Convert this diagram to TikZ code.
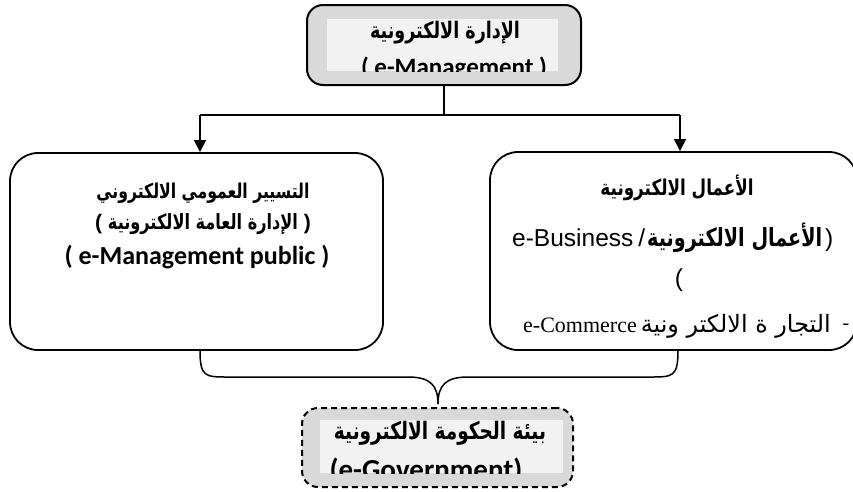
\documentclass[tikz,border=0pt]{standalone}
\usepackage{fontspec}
\usetikzlibrary{arrows.meta}
\TeXXeTstate=1
\newfontfamily\arfont[Script=Arabic]{DejaVu Sans}
\newfontfamily\califont{Carlito}
\newfontfamily\arialfont{Liberation Sans}
\newfontfamily\timesfont{Liberation Serif}
\definecolor{boxgrey}{HTML}{D9D9D9}
\definecolor{innergrey}{HTML}{F2F2F2}
% Arabic phrase fitted to a given width, bold ones set a little taller
\newcommand\arbold[2]{\scalebox{1}[1.3]{\resizebox{#1}{!}{\arfont\bfseries #2}}}
\newcommand\arplain[2]{\resizebox{#1}{!}{\arfont #2}}
\begin{document}
\begin{tikzpicture}[x=1pt,y=-1pt,
  outline/.style={draw=black,line width=2pt,rounded corners=16pt,inner sep=0pt},
  bigbox/.style={draw=black,line width=1.8pt,rounded corners=28pt,inner sep=0pt},
  link/.style={draw=black,line width=1.5pt},
  arrowlink/.style={link,-{Triangle[length=12pt,width=12pt]}},
  txt/.style={inner sep=0pt,anchor=center},
  txtw/.style={inner sep=0pt,anchor=base west}]
\useasboundingbox (0,0) rectangle (853,491);

% top box: e-Management
\node[outline,fill=boxgrey,minimum width=274pt,minimum height=80pt] (top) at (444,45) {};
\fill[innergrey] (327,19) rectangle (558,71);
\begin{scope}
  \clip (327,19) rectangle (558,71);
  \node[txt] (topa) at (445,33) {\arbold{150pt}{\beginR الإدارة الالكترونية\endR}};
  \node[inner sep=0pt,anchor=base] (topb) at (454,75) {\califont\bfseries\fontsize{25}{30}\selectfont ( e-Management )};
\end{scope}

% the two branches
\node[bigbox,minimum width=373pt,minimum height=197pt] (left) at (196.5,251.5) {};
\node[bigbox,minimum width=367pt,minimum height=198pt] (right) at (673.5,251) {};

\node[txt] (la) at (203,193) {\arbold{213pt}{\beginR التسيير العمومي الالكتروني\endR}};
\node[txt] (lb) at (203,224) {{\arialfont\bfseries\fontsize{21}{24}\selectfont (\ }\arbold{190pt}{\beginR الإدارة العامة الالكترونية\endR}{\arialfont\bfseries\fontsize{21}{24}\selectfont\ )}};
\node[txt] (lc) at (197,257) {\califont\bfseries\fontsize{26}{30}\selectfont ( e-Management public )};

\node[txt] (ra) at (677,188) {\arbold{153pt}{\beginR الأعمال الالكترونية\endR}};
\node[txtw] (rb) at (512,246) {\arialfont\fontsize{24.5}{28}\selectfont e-Business\hspace{5pt}/\hspace{2pt}\arbold{175pt}{\beginR الأعمال الالكترونية\endR}\hspace{3pt})};
\node[txt] (rc) at (679,280) {\arialfont\fontsize{24.5}{28}\selectfont (};
\node[txtw] (rd) at (523,332) {\timesfont\fontsize{22}{26}\selectfont e-Commerce\hspace{4pt}\arplain{190pt}{\beginR التجار ة الالكتر ونية\endR}};
\node[txt] (re) at (846,327) {\timesfont\fontsize{20}{24}\selectfont -};

% bottom box: e-Government
\node[outline,dashed,dash pattern=on 6pt off 4pt,fill=boxgrey,minimum width=271pt,minimum height=79pt] (gov) at (437.5,447.5) {};
\fill[innergrey] (320,420) rectangle (563,473);
\begin{scope}
  \clip (320,420) rectangle (563,473);
  \node[txt] (gova) at (440,433) {\arbold{212pt}{\beginR بيئة الحكومة الالكترونية\endR}};
  \node[inner sep=0pt,anchor=base] (govb) at (426,479) {\califont\bfseries\fontsize{29}{33}\selectfont (e-Government)};
\end{scope}

% connectors from the top box to both branches
\coordinate (split) at (top.south |- 0,115);
\coordinate (lt) at (200,115);
\coordinate (rt) at (680,115);
\draw[link] (top.south) -- (split);
\draw[link] (lt) -- (rt);
\draw[arrowlink] (lt) -- (lt |- left.north);
\draw[arrowlink] (rt) -- (rt |- right.north);

% brace joining both branches into the bottom box
\coordinate (lb0) at (200,350);
\coordinate (rb0) at (678,350);
\coordinate (tip) at (438,404);
\draw[link] (lb0) .. controls (200,377) and (205,377) .. (228,377) -- (408,377)
  .. controls (430,377) and (438,385) .. (tip);
\draw[link] (rb0) .. controls (678,377) and (673,377) .. (650,377) -- (468,377)
  .. controls (446,377) and (438,385) .. (tip);
\end{tikzpicture}
\end{document}
